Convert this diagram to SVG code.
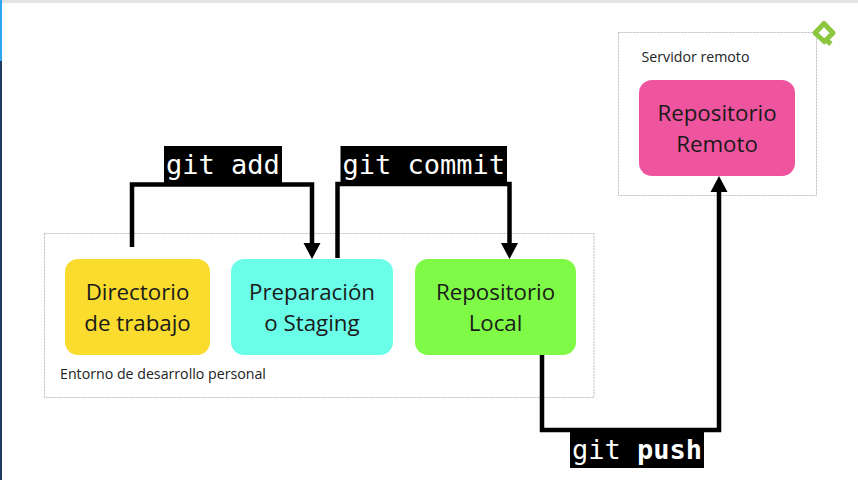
<svg xmlns="http://www.w3.org/2000/svg" width="858" height="480" viewBox="0 0 858 480">
<defs>
<marker id="arrow" markerUnits="userSpaceOnUse" markerWidth="18" markerHeight="18" refX="2" refY="9" orient="auto"><path d="M0 0.500L16 9L0 17.500Z" fill="#000"/></marker>
</defs>
<style>
.frame{fill:#fff;stroke:#bdbdbd;stroke-width:1;stroke-dasharray:2 1}
.n{font:22.300px "Open Sans","Noto Sans",sans-serif;fill:#1a1a1a;text-anchor:middle}
.s{font:14.200px "Open Sans","Noto Sans",sans-serif;fill:#222}
.c{font:27px "DejaVu Sans Mono",monospace;fill:#fff}
.l{fill:none;stroke:#000;stroke-width:4.500;stroke-linejoin:miter}
</style>
<rect width="858" height="480" fill="#fffefe"/>
<rect width="858" height="3" fill="#e4e4e4"/>
<rect x="0" y="0" width="2" height="61" fill="#2da7f0"/>
<rect x="0" y="61" width="2" height="419" fill="#1f3a60"/>
<g id="env"><rect class="frame" x="44.500" y="233.500" width="549.500" height="164"/><text class="s" x="60" y="379">Entorno de desarrollo personal</text></g>
<g id="server"><rect class="frame" x="618.500" y="32.500" width="198" height="163"/><text class="s" x="641.500" y="62">Servidor remoto</text></g>
<g id="logo"><path d="M826 43L815 33L824 23.500L833 33L826 40L831 44" fill="none" stroke="#8cc63f" stroke-width="5" stroke-linejoin="round"/></g>
<g id="connectors">
<path class="l" d="M132 247V184.500H312V245" marker-end="url(#arrow)"/>
<path class="l" d="M337.500 258V184H509.500V245" marker-end="url(#arrow)"/>
<path class="l" d="M542 354V430H719V190" marker-end="url(#arrow)"/>
</g>
<g id="dir"><rect x="65" y="259" width="145" height="96" rx="13" fill="#f9dc2e"/><text class="n" x="137.500" y="300">Directorio</text><text class="n" x="137.500" y="331">de trabajo</text></g>
<g id="staging"><rect x="231" y="259" width="162" height="96" rx="13" fill="#6afde8"/><text class="n" x="312" y="300">Preparación</text><text class="n" x="312" y="331">o Staging</text></g>
<g id="local"><rect x="415" y="259" width="161" height="96" rx="13" fill="#7ffb47"/><text class="n" x="495.500" y="300">Repositorio</text><text class="n" x="495.500" y="331">Local</text></g>
<g id="remote"><rect x="639" y="80" width="156" height="96" rx="13" fill="#ef559f"/><text class="n" x="717" y="121">Repositorio</text><text class="n" x="717" y="152">Remoto</text></g>
<g id="add"><rect x="164" y="146" width="118" height="37" fill="#000"/><text class="c" x="166" y="174">git add</text></g>
<g id="commit"><rect x="340.500" y="146" width="166.500" height="37" fill="#000"/><text class="c" x="342.500" y="174">git commit</text></g>
<g id="push"><rect x="570" y="428" width="134" height="40" fill="#000"/><text class="c" x="572" y="459">git <tspan font-weight="bold">push</tspan></text></g>
</svg>
